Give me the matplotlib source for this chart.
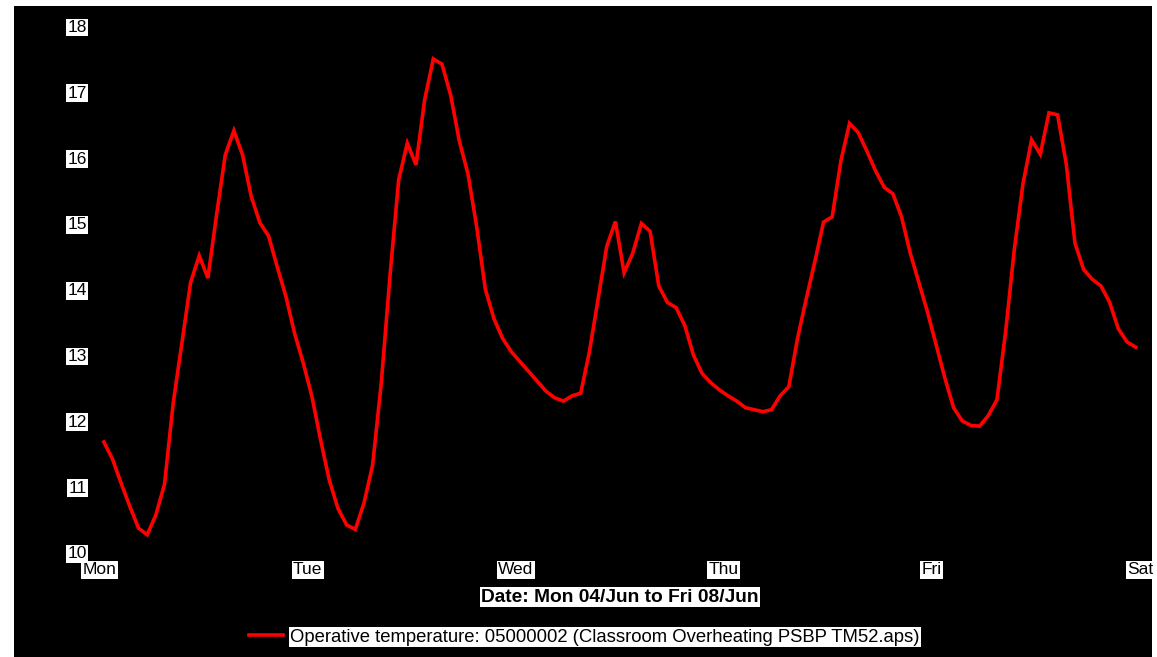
import matplotlib
matplotlib.use('Agg')
import matplotlib.pyplot as plt
from matplotlib.patches import Rectangle
import numpy as np

plt.rcParams['font.family'] = ['Liberation Sans', 'DejaVu Sans']

# hourly operative temperature (deg C), Mon 00:30 ... Fri 23:30
mon = [11.68, 11.42, 11.05, 10.70, 10.37, 10.27, 10.57, 11.04, 12.27, 13.18, 14.10, 14.51,
       14.17, 15.13, 16.04, 16.41, 16.04, 15.41, 15.01, 14.81, 14.34, 13.89, 13.33, 12.88]
tue = [12.37, 11.71, 11.10, 10.67, 10.42, 10.35, 10.75, 11.33, 12.58, 14.20, 15.66, 16.22,
       15.89, 16.88, 17.50, 17.42, 16.95, 16.25, 15.75, 14.95, 14.00, 13.55, 13.25, 13.05]
wed = [12.90, 12.75, 12.60, 12.45, 12.35, 12.30, 12.38, 12.42, 13.05, 13.85, 14.65, 15.03,
       14.25, 14.55, 15.00, 14.88, 14.05, 13.80, 13.72, 13.45, 13.00, 12.72, 12.58, 12.47]
thu = [12.38, 12.30, 12.20, 12.17, 12.14, 12.17, 12.38, 12.52, 13.25, 13.85, 14.42, 15.02,
       15.10, 15.95, 16.52, 16.38, 16.10, 15.80, 15.55, 15.45, 15.10, 14.55, 14.10, 13.65]
fri = [13.15, 12.65, 12.20, 12.00, 11.93, 11.92, 12.08, 12.32, 13.35, 14.60, 15.60, 16.27,
       16.05, 16.68, 16.65, 15.90, 14.70, 14.30, 14.15, 14.05, 13.80, 13.40, 13.20, 13.12]
temps = mon + tue + wed + thu + fri
hours = np.arange(len(temps)) + 0.5

day_ticks = [0, 24, 48, 72, 96, 120]
day_labels = ['Mon', 'Tue', 'Wed', 'Thu', 'Fri', 'Sat']
y_ticks = [10, 11, 12, 13, 14, 15, 16, 17, 18]
series_label = 'Operative temperature: 05000002 (Classroom Overheating PSBP TM52.aps)'
x_title = 'Date: Mon 04/Jun to Fri 08/Jun'

W, H = 1157, 657
fig = plt.figure(figsize=(W / 100, H / 100), dpi=100, facecolor='white')
fig.patches.append(Rectangle((14 / W, 0), (1152 - 14) / W, (H - 6) / H,
                             transform=fig.transFigure, facecolor='black',
                             edgecolor='none', zorder=-5))

x0, x1 = 99.5, 1140.0
y10, y18 = 552.5, 26.0
ax = fig.add_axes([x0 / W, (H - y10) / H, (x1 - x0) / W, (y10 - y18) / H])
ax.set_facecolor('black')
line, = ax.plot(hours, temps, color='#ff0000', lw=2.6, label=series_label,
                solid_joinstyle='miter')
ax.set_xlim(0, 120)
ax.set_ylim(10, 18)
for s in ax.spines.values():
    s.set_visible(False)

ax.set_xticks(day_ticks, day_labels)
ax.set_yticks(y_ticks)
ax.tick_params(axis='both', length=0, labelsize=12.5, labelcolor='black')
ax.tick_params(axis='y', pad=9)
ax.tick_params(axis='x', pad=7)
box = dict(facecolor='white', edgecolor='none', pad=1.0)
for lab in ax.get_xticklabels() + ax.get_yticklabels():
    lab.set_bbox(box)

xl = ax.set_xlabel(x_title, fontsize=13.8, fontweight='bold', color='black')
xl.set_bbox(box)
ax.xaxis.set_label_coords(0.5, -(597 - y10) / (y10 - y18))
xl.set_va('center')

leg = fig.legend(handles=[line], loc='center',
                 bbox_to_anchor=(584.5 / W, 1 - 637 / H), frameon=False,
                 fontsize=13.3, handlelength=1.8, handletextpad=0.4,
                 borderpad=0, borderaxespad=0)
for t in leg.get_texts():
    t.set_color('black')
    t.set_bbox(box)

fig.savefig('out.png', dpi=100, facecolor='white')
